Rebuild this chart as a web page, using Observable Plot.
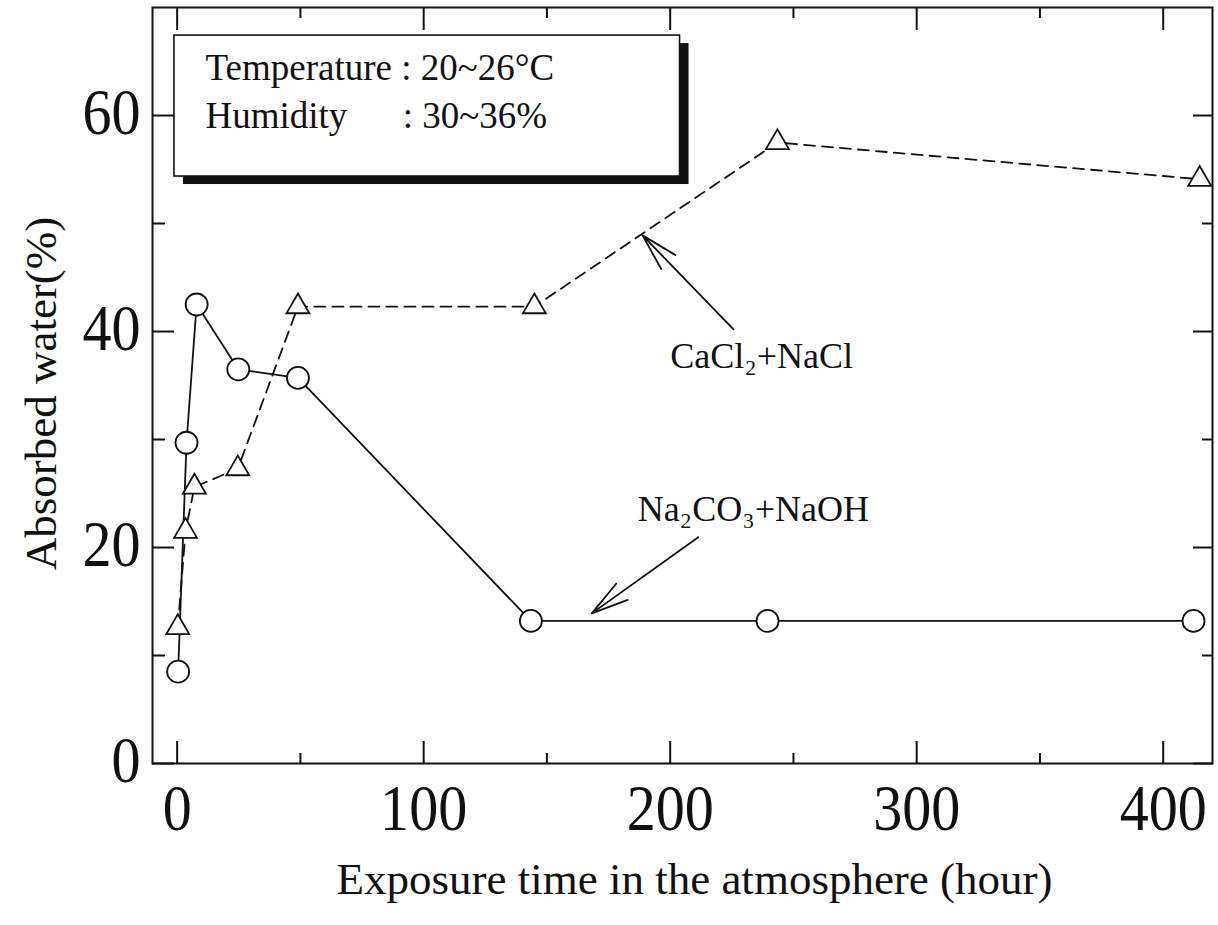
<!DOCTYPE html>
<html>
<head>
<meta charset="utf-8">
<script src="https://cdn.jsdelivr.net/npm/d3@7"></script>
<script src="https://cdn.jsdelivr.net/npm/@observablehq/plot@0.6"></script>
<style>
  body { margin: 0; background: #fff; }
</style>
</head>
<body>
<div id="chart"></div>
<script>
// Exposure time (hour) and absorbed water (%) for each additive mixture
const hoursNa = [0.4, 3.8, 7.9, 24.8, 49, 143.5, 239.5, 412.3];
const waterNa = [8.5, 29.7, 42.5, 36.5, 35.7, 13.2, 13.2, 13.2];
const hoursCa = [0.25, 3.4, 7.0, 24.6, 49, 144.9, 243.5, 414.8];
const waterCa = [12.6, 21.5, 25.6, 27.3, 42.3, 42.3, 57.5, 54.1];

const seriesNames = ["Na₂CO₃+NaOH", "CaCl₂+NaCl"];

// Tick values
const xMajor = [0, 100, 200, 300, 400];
const xMinor = [50, 150, 250, 350];
const yMajor = [0, 20, 40, 60];
const yMinor = [10, 30, 50];

const xTitle = "Exposure time in the atmosphere (hour)";
const yTitle = "Absorbed water(%)";
const conditionNames = ["Temperature : 20~26°C", "Humidity", ": 30~36%"];

// Annotation anchors, in data units (hour, %)
const conditionBox = {x1: -1.1, x2: 204, y1: 54.35, y2: 67.4};
const conditionText = [
  {text: conditionNames[0], hour: 11.5, water: 64.35},
  {text: conditionNames[1], hour: 11.5, water: 59.9},
  {text: conditionNames[2], hour: 91.5, water: 59.9}
];
const seriesLabels = [
  {text: seriesNames[0], hour: 186.8, water: 23.55},
  {text: seriesNames[1], hour: 200, water: 37.7}
];
const pointers = [
  {x1: 211.4, y1: 20.95, x2: 168.2, y2: 13.9},
  {x1: 225.7, y1: 40.2, x2: 188.8, y2: 48.9}
];

const na = hoursNa.map((h, i) => ({hour: h, water: waterNa[i]}));
const ca = hoursCa.map((h, i) => ({hour: h, water: waterCa[i]}));

const serif = "'Liberation Serif', 'Times New Roman', serif";
const ink = "#111";

const tickAxis = (fn, values, anchor, size) =>
  fn(values, {anchor, tickSize: -size, fill: "none", label: null, strokeWidth: 2, stroke: ink});

const chart = Plot.plot({
  width: 1218,
  height: 925,
  marginLeft: 152,
  marginRight: 6,
  marginTop: 7,
  marginBottom: 162,
  style: {fontFamily: serif, background: "#fff", color: ink},
  x: {domain: [-10, 420]},
  y: {domain: [0, 70]},
  marks: [
    // inward ticks on all four sides
    tickAxis(Plot.axisX, xMajor, "bottom", 22),
    tickAxis(Plot.axisX, xMinor, "bottom", 10),
    tickAxis(Plot.axisX, xMajor, "top", 22),
    tickAxis(Plot.axisX, xMinor, "top", 10),
    tickAxis(Plot.axisY, yMajor, "left", 22),
    tickAxis(Plot.axisY, yMinor, "left", 13),
    tickAxis(Plot.axisY, yMajor, "right", 20),
    tickAxis(Plot.axisY, yMinor, "right", 11),
    // tick labels
    Plot.axisX(xMajor, {anchor: "bottom", tickSize: 0, tickPadding: 20, fontSize: 66, label: null, fill: ink}),
    Plot.axisY(yMajor, {anchor: "left", tickSize: 0, tickPadding: 12, fontSize: 66, label: null, fill: ink, dy: -3}),
    Plot.frame({stroke: ink, strokeWidth: 2}),
    // axis titles
    Plot.text([xTitle], {frameAnchor: "bottom", lineAnchor: "middle", textAnchor: "middle",
      dx: 12, dy: 116, fontSize: 45, fill: ink}),
    Plot.text([yTitle], {frameAnchor: "left", lineAnchor: "middle", textAnchor: "middle",
      rotate: -90, dx: -111, dy: 8, fontSize: 45, fill: ink}),
    // test conditions box with drop shadow
    Plot.rect([conditionBox], {x1: "x1", x2: "x2", y1: "y1", y2: "y2", fill: ink, dx: 9, dy: 8}),
    Plot.rect([conditionBox], {x1: "x1", x2: "x2", y1: "y1", y2: "y2", fill: "#fff", stroke: ink, strokeWidth: 1.6}),
    Plot.text(conditionText, {x: "hour", y: "water", text: "text", textAnchor: "start", fontSize: 37, fill: ink}),
    // series labels with pointers
    Plot.arrow(pointers, {x1: "x1", y1: "y1", x2: "x2", y2: "y2", headAngle: 30, headLength: 32, strokeWidth: 1.8, stroke: ink}),
    Plot.text(seriesLabels, {x: "hour", y: "water", text: "text", textAnchor: "start", fontSize: 36, fill: ink}),
    // data
    Plot.line(ca, {x: "hour", y: "water", stroke: ink, strokeWidth: 1.8, strokeDasharray: "11,7"}),
    Plot.line(na, {x: "hour", y: "water", stroke: ink, strokeWidth: 1.8}),
    Plot.dot(ca, {x: "hour", y: "water", symbol: "triangle", r: 8.5, fill: "#fff", stroke: ink, strokeWidth: 1.8}),
    Plot.dot(na, {x: "hour", y: "water", symbol: "circle", r: 11, fill: "#fff", stroke: ink, strokeWidth: 1.8})
  ]
});

// narrow the large tick numerals slightly
d3.select(chart)
  .selectAll('g[aria-label="x-axis tick label"] text, g[aria-label="y-axis tick label"] text')
  .attr("transform", function () {
    return (this.getAttribute("transform") || "") + " scale(0.88,1)";
  });

document.getElementById("chart").append(chart);
</script>
</body>
</html>
